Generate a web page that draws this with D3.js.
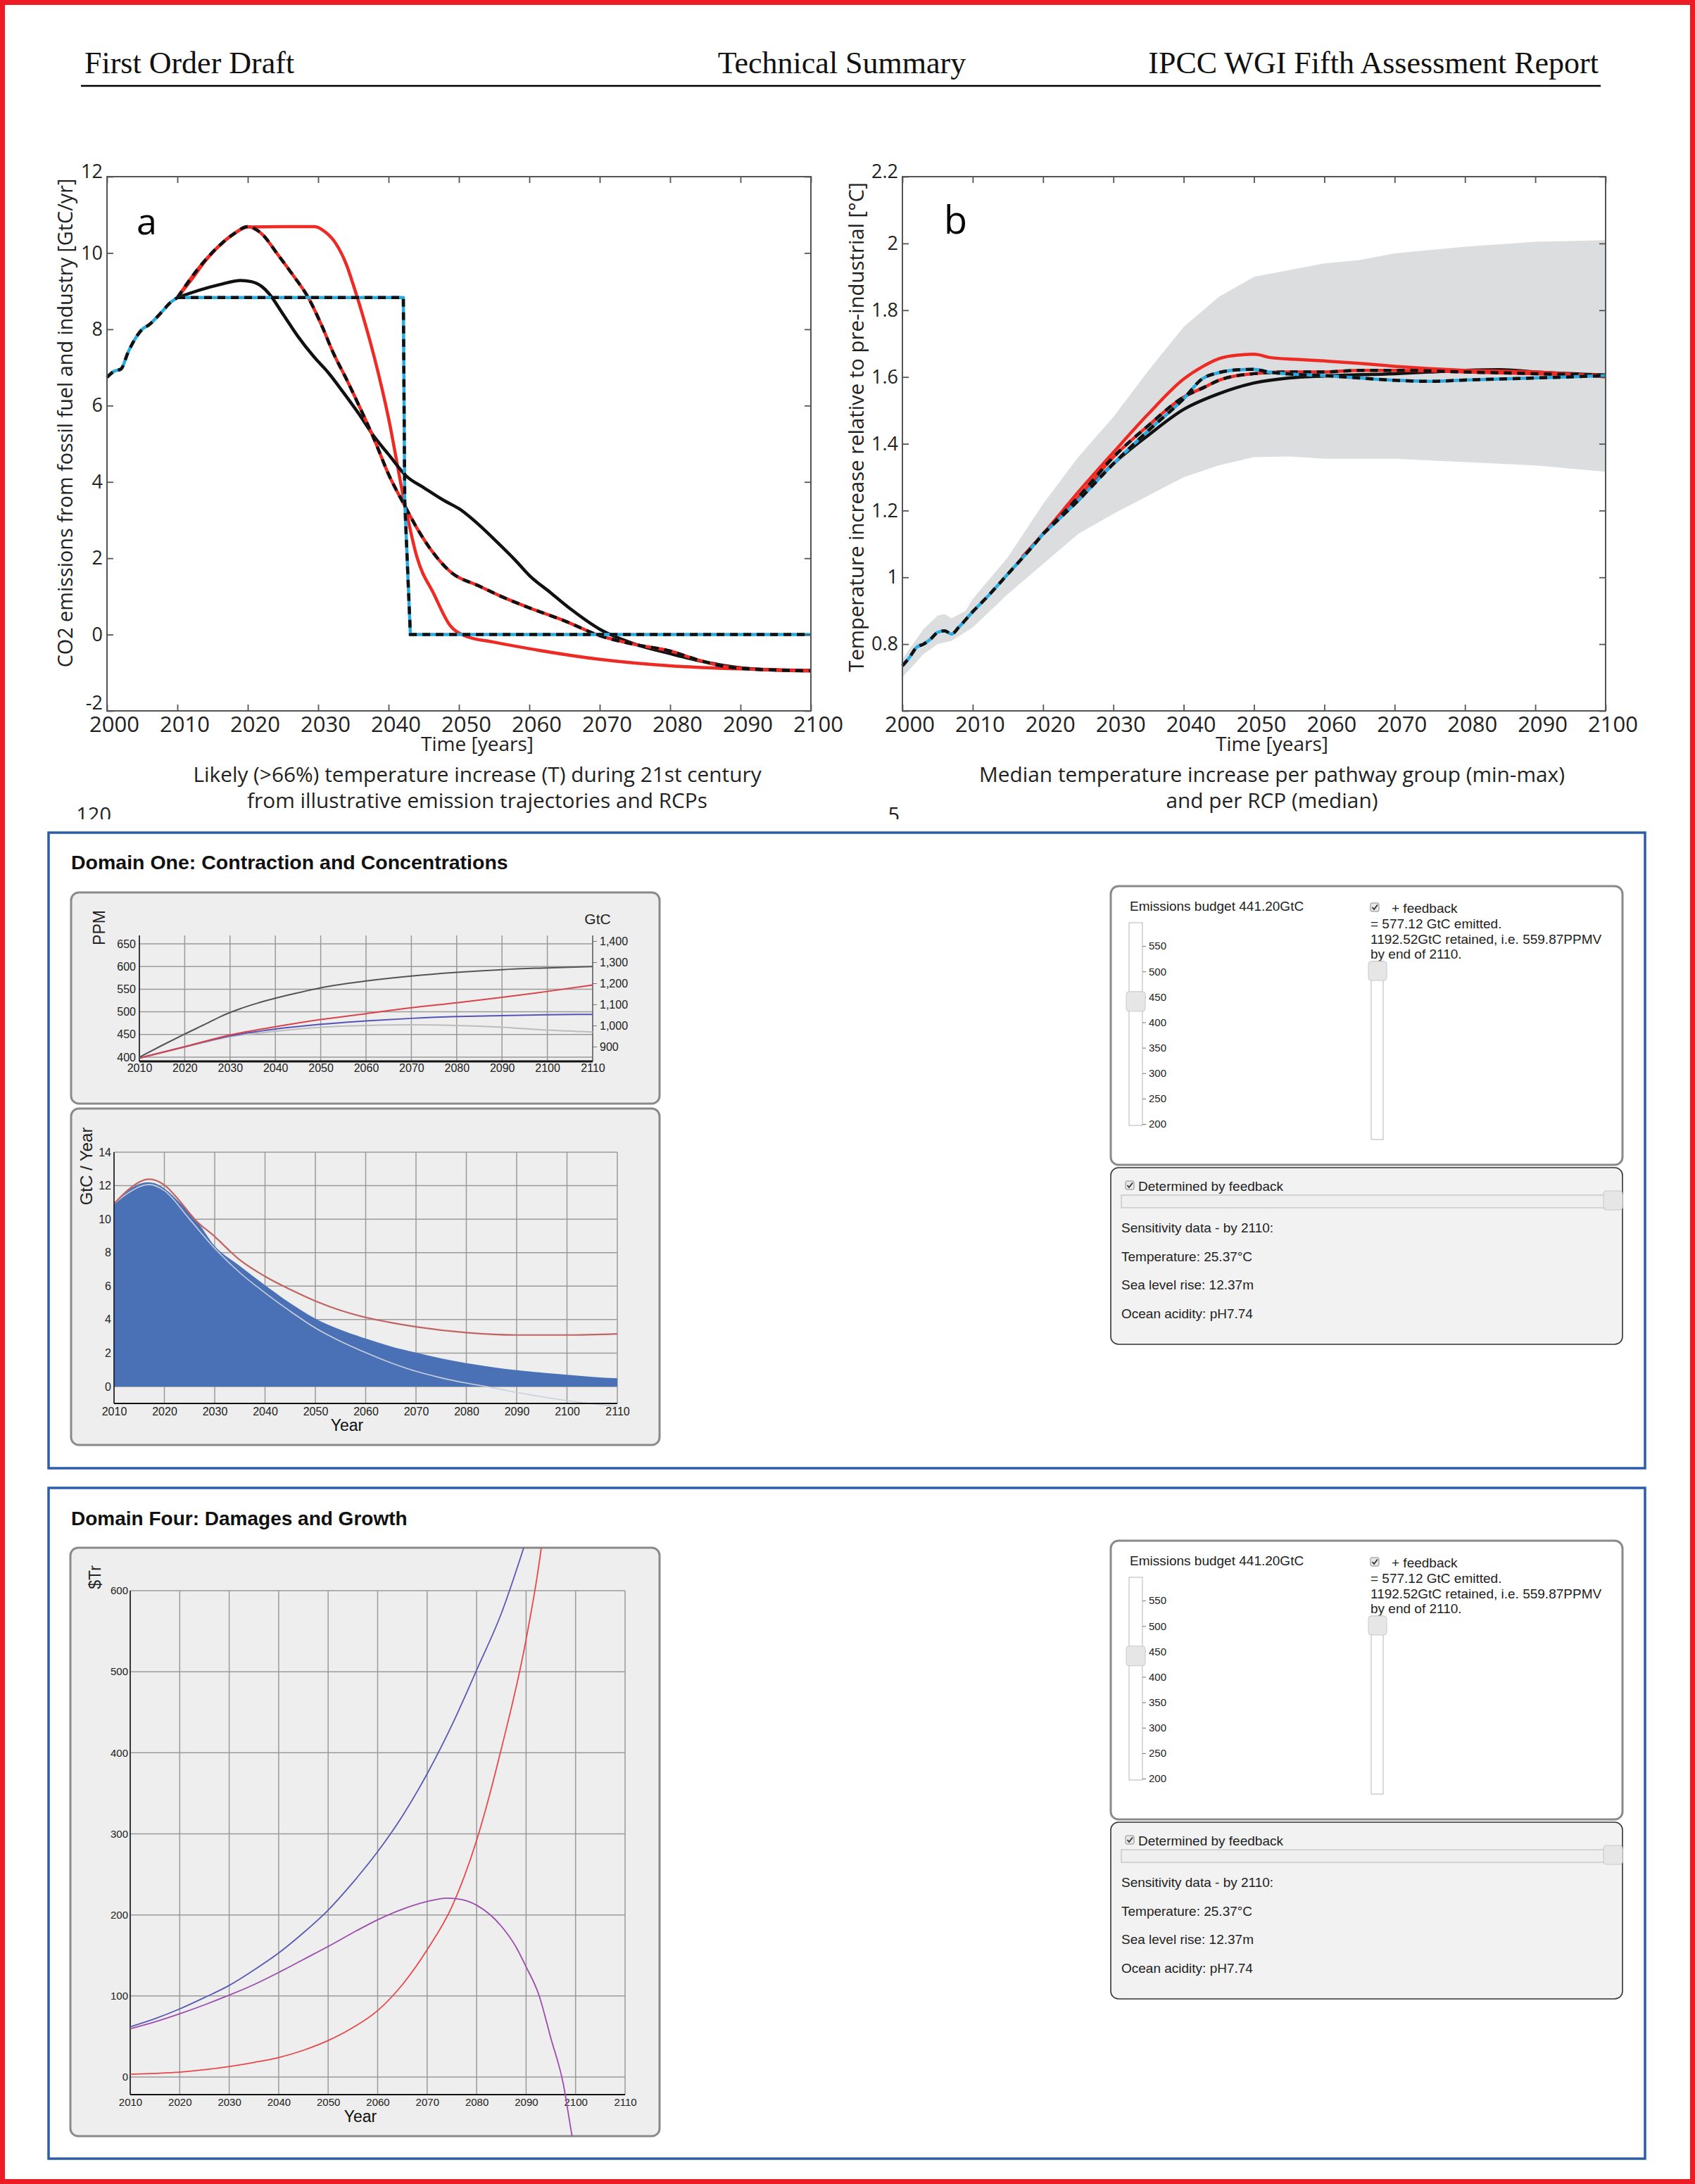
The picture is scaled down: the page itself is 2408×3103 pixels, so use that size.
<!DOCTYPE html>
<html lang="en">
<head>
<meta charset="UTF-8">
<title>Emission pathways and model panels</title>
<style>
  body { margin: 0; background: #fff; }
  svg { display: block; }
</style>
</head>
<body>
<script src="https://d3js.org/d3.v7.min.js"></script>
<script>
// ---------- data ----------
const decadeTicks = [2000, 2010, 2020, 2030, 2040, 2050, 2060, 2070, 2080, 2090, 2100];
const aYTicks = [-2, 0, 2, 4, 6, 8, 10, 12];
const bYTicks = [0.6, 0.8, 1, 1.2, 1.4, 1.6, 1.8, 2, 2.2];

// panel a: CO2 emissions [GtC/yr]
const aHistory = [[2000, 6.74], [2001, 6.9], [2002, 6.96], [2003, 7.4], [2004, 7.75], [2005, 8.0], [2006, 8.12], [2007, 8.3], [2008, 8.5], [2009, 8.7], [2010, 8.83]];
const aBlackSolid = [[2010, 8.83], [2013, 9.02], [2016, 9.17], [2019, 9.28], [2020.5, 9.25], [2022, 9.12], [2023, 8.94], [2025, 8.4], [2027.1, 7.82], [2029.3, 7.3], [2031.5, 6.85], [2033.6, 6.34], [2035.8, 5.78], [2037.9, 5.2], [2040, 4.72], [2042.6, 4.14], [2045, 3.85], [2048, 3.5], [2050, 3.3], [2053, 2.85], [2055, 2.5], [2058, 1.95], [2060, 1.55], [2063, 1.1], [2066, 0.65], [2070, 0.14], [2075, -0.25], [2080, -0.5], [2085, -0.72], [2090, -0.87], [2095, -0.93], [2100, -0.95]];
const aRedSolid = [[2010, 8.83], [2012, 9.3], [2014, 9.8], [2016, 10.2], [2018, 10.5], [2020, 10.68], [2025, 10.69], [2029.5, 10.69], [2031, 10.55], [2032.5, 10.25], [2034, 9.7], [2035, 9.16], [2036.5, 8.26], [2038, 7.25], [2040, 5.67], [2042.2, 3.52], [2044, 2.05], [2046.5, 1.04], [2048.7, 0.25], [2050.8, -0.03], [2055, -0.2], [2060, -0.37], [2070, -0.65], [2080, -0.82], [2090, -0.9], [2100, -0.94]];
const aRedDashed = [[2010, 8.83], [2013, 9.6], [2016, 10.2], [2018, 10.5], [2020, 10.69], [2022, 10.5], [2024.3, 9.95], [2026.5, 9.4], [2028.6, 8.83], [2030.5, 8.1], [2032.2, 7.36], [2034, 6.7], [2035.8, 6.0], [2038, 5.1], [2040, 4.2], [2042.2, 3.41], [2044, 2.8], [2045.8, 2.28], [2048.7, 1.66], [2053, 1.26], [2056, 1.0], [2060, 0.7], [2065, 0.36], [2070, -0.03], [2075, -0.26], [2080, -0.43], [2083.7, -0.65], [2087.3, -0.82], [2091, -0.9], [2095, -0.93], [2100, -0.95]];
const aBlueStep = [[2010, 8.83], [2042.1, 8.83], [2042.3, 3.5], [2043.1, 0], [2100, 0]];

// panel b: temperature increase [°C]
const bBandUpper = [[2000, 0.755], [2003, 0.845], [2005, 0.885], [2006, 0.89], [2007, 0.877], [2009, 0.9], [2010, 0.935], [2015, 1.06], [2020, 1.22], [2025, 1.36], [2030, 1.48], [2035, 1.62], [2040, 1.75], [2045, 1.84], [2050, 1.9], [2055, 1.92], [2060, 1.94], [2065, 1.95], [2070, 1.97], [2080, 1.99], [2090, 2.005], [2100, 2.01]];
const bBandLower = [[2000, 0.7], [2003, 0.77], [2005, 0.8], [2007, 0.81], [2010, 0.85], [2015, 0.95], [2020, 1.04], [2025, 1.13], [2030, 1.19], [2035, 1.245], [2040, 1.3], [2045, 1.335], [2050, 1.36], [2055, 1.362], [2060, 1.355], [2070, 1.355], [2080, 1.345], [2090, 1.335], [2100, 1.316]];
const bCommon = [[2000, 0.735], [2001, 0.76], [2002, 0.79], [2003, 0.8], [2004, 0.815], [2005, 0.835], [2006, 0.84], [2007, 0.83], [2008, 0.85], [2010, 0.897], [2012, 0.94], [2015, 1.01], [2018, 1.08], [2020, 1.13]];
const bRedSolid = [[2017, 1.06], [2020, 1.13], [2025, 1.255], [2030, 1.374], [2035, 1.49], [2040, 1.594], [2042.6, 1.63], [2045, 1.655], [2047.5, 1.665], [2050, 1.668], [2052.4, 1.658], [2056, 1.653], [2060, 1.648], [2065, 1.641], [2070, 1.632], [2075, 1.625], [2080, 1.62], [2090, 1.615], [2100, 1.6]];
const bRedDashed = [[2020, 1.13], [2025, 1.24], [2030, 1.36], [2035, 1.455], [2040, 1.54], [2043, 1.57], [2045, 1.59], [2050, 1.61], [2055, 1.615], [2060, 1.615], [2065, 1.62], [2070, 1.62], [2080, 1.615], [2090, 1.61], [2100, 1.605]];
const bBlueDashed = [[2020, 1.13], [2025, 1.23], [2030, 1.34], [2035, 1.44], [2040, 1.535], [2042.6, 1.594], [2045, 1.613], [2048, 1.622], [2050, 1.623], [2052, 1.615], [2055, 1.609], [2060, 1.604], [2065, 1.597], [2070, 1.59], [2075, 1.587], [2080, 1.591], [2090, 1.597], [2100, 1.604]];
const bBlackSolid = [[2025, 1.23], [2030, 1.34], [2035, 1.426], [2040, 1.503], [2045, 1.55], [2050, 1.582], [2055, 1.597], [2060, 1.603], [2070, 1.61], [2075, 1.615], [2080, 1.62], [2085, 1.622], [2090, 1.615], [2100, 1.606]];

// domain panels
const domYears = [2010, 2020, 2030, 2040, 2050, 2060, 2070, 2080, 2090, 2100, 2110];
const ppmTicks = [400, 450, 500, 550, 600, 650];
const gtcTicks = [900, 1000, 1100, 1200, 1300, 1400];
const ppmDark = [[2010, 400], [2015, 426], [2020, 451], [2025, 475], [2028, 490], [2032, 506], [2036, 519], [2040, 530], [2045, 542], [2050, 553], [2060, 568], [2070, 579], [2080, 587], [2090, 593], [2100, 597], [2110, 600]];
const ppmRed = [[2010, 398], [2020, 423], [2030, 449], [2040, 467], [2050, 483], [2060, 496], [2070, 509], [2080, 520], [2090, 532], [2100, 545], [2110, 559]];
const ppmBlue = [[2010, 398], [2020, 423], [2030, 447], [2040, 462], [2050, 472.6], [2060, 480], [2070, 485.6], [2080, 489.7], [2090, 491.8], [2100, 493.5], [2110, 494.4]];
const ppmGrey = [[2010, 398], [2020, 422], [2030, 445], [2040, 457], [2050, 466], [2060, 470], [2070, 471.6], [2080, 470], [2090, 466], [2100, 459.6], [2110, 455.5]];

const flowTicks = [0, 2, 4, 6, 8, 10, 12, 14];
const flowArea = [[2010, 10.92], [2012, 11.5], [2014, 11.95], [2016.6, 12.2], [2018, 12.15], [2020, 11.83], [2023, 11.0], [2026.2, 10.0], [2030, 8.4], [2035, 7.2], [2040, 6.05], [2045, 4.98], [2050, 4.06], [2055, 3.4], [2060, 2.87], [2065, 2.4], [2070, 2.03], [2075, 1.68], [2080, 1.4], [2085, 1.17], [2090, 0.98], [2095, 0.83], [2100, 0.7], [2105, 0.58], [2110, 0.49]];
const flowRed = [[2010, 10.92], [2013, 11.8], [2017, 12.39], [2020, 12.04], [2023, 11.1], [2026, 10.0], [2030, 8.96], [2035, 7.56], [2040, 6.58], [2045, 5.8], [2050, 5.11], [2055, 4.55], [2060, 4.13], [2065, 3.82], [2070, 3.57], [2080, 3.22], [2090, 3.08], [2100, 3.08], [2110, 3.15]];
const flowLight = [[2010, 10.92], [2013, 11.6], [2017, 12.07], [2020, 11.7], [2025, 10.0], [2030, 8.26], [2035, 6.8], [2040, 5.6], [2045, 4.5], [2050, 3.5], [2055, 2.7], [2060, 2.03], [2065, 1.42], [2070, 0.91], [2075, 0.52], [2080, 0.21], [2084, 0], [2090, -0.35], [2100, -0.84], [2110, -1.19]];

const trTicks = [0, 100, 200, 300, 400, 500, 600];
const trBlue = [[2010, 62], [2015, 72], [2020, 84], [2025, 98], [2030, 113], [2035, 132], [2040, 153], [2045, 178], [2050, 206], [2055, 240], [2060, 278], [2065, 322], [2070, 374], [2075, 434], [2080, 502], [2085, 572], [2090, 662]];
const trRed = [[2010, 3.5], [2015, 4.5], [2020, 6], [2025, 9], [2030, 13], [2035, 18], [2040, 24], [2045, 33], [2050, 45], [2055, 61], [2060, 82], [2065, 114], [2070, 157], [2075, 210], [2080, 292], [2085, 405], [2090, 540], [2093, 650], [2094, 700]];
const trPurple = [[2010, 59.5], [2015, 68], [2020, 78], [2025, 89], [2030, 101], [2035, 114], [2040, 129], [2045, 145], [2050, 161], [2055, 178], [2060, 194], [2065, 207], [2070, 216.5], [2074, 220.7], [2077, 219], [2080, 212], [2085, 186], [2088, 160], [2090, 136], [2092.6, 101], [2095, 48], [2097.5, -8], [2099.3, -73], [2100, -95]];

const budgetTicks = [200, 250, 300, 350, 400, 450, 500, 550];
const budgetValue = 441.2;
const infoLines = ["= 577.12 GtC emitted.", "1192.52GtC retained, i.e. 559.87PPMV", "by end of 2110."];
const sensLines = ["Sensitivity data - by 2110:", "Temperature: 25.37°C", "Sea level rise: 12.37m", "Ocean acidity: pH7.74"];

// ---------- drawing ----------
const MYR = '"Open Sans", "Noto Sans", sans-serif';
const ARIAL = '"Liberation Sans", Arial, sans-serif';

const svg = d3.select("body").append("svg")
    .attr("width", 2408).attr("height", 3103);

svg.append("rect").attr("width", 2408).attr("height", 3103).attr("fill", "#fff");

// page header
const hdr = svg.append("g")
    .attr("font-family", '"Liberation Serif", "Times New Roman", serif')
    .attr("font-size", 44).attr("fill", "#111");
hdr.append("text").attr("x", 120).attr("y", 104).text("First Order Draft");
hdr.append("text").attr("x", 1196).attr("y", 104).attr("text-anchor", "middle").text("Technical Summary");
hdr.append("text").attr("x", 2271).attr("y", 104).attr("text-anchor", "end").text("IPCC WGI Fifth Assessment Report");
svg.append("line").attr("x1", 115).attr("x2", 2274).attr("y1", 122).attr("y2", 122)
    .attr("stroke", "#000").attr("stroke-width", 2.5);

// top figure, cropped at the bottom
svg.append("clipPath").attr("id", "topClip")
    .append("rect").attr("width", 2408).attr("height", 1164);
const topG = svg.append("g").attr("clip-path", "url(#topClip)");

function lineGen(xs, ys, curve) {
    return d3.line().x(d => xs(d[0])).y(d => ys(d[1])).curve(curve || d3.curveMonotoneX);
}

function ipccFrame(g, xs, ys, yTicks, yLabels) {
    const [x0, x1] = xs.range();
    const [yb, yt] = ys.range();
    const [v0, v1] = ys.domain();
    const style = (sel, size) => {
        sel.select(".domain").remove();
        sel.selectAll("line").attr("stroke", "#555").attr("stroke-width", 1.8);
        sel.attr("font-family", MYR).attr("font-size", size || 27);
        sel.selectAll("text").attr("fill", "#222");
    };
    g.append("g").attr("transform", `translate(0,${yb})`)
        .call(d3.axisBottom(xs).tickValues(decadeTicks).tickSize(-9).tickPadding(9).tickFormat(d3.format("d")))
        .call(sel => style(sel, 31))
        .call(sel => sel.selectAll("text").attr("dx", 10).attr("dy", "0.68em"));
    g.append("g").attr("transform", `translate(0,${yt})`)
        .call(d3.axisTop(xs).tickValues(decadeTicks).tickSize(-9).tickFormat(""))
        .call(style);
    g.append("g").attr("transform", `translate(${x0},0)`)
        .call(d3.axisLeft(ys).tickValues(yTicks).tickSize(-9).tickPadding(6)
            .tickFormat(d => yLabels.includes(d) ? String(d) : ""))
        .call(style)
        .call(sel => sel.selectAll("text")
            .attr("dy", d => d === v0 ? "-0.08em" : d === v1 ? "0.05em" : "0.32em"));
    g.append("g").attr("transform", `translate(${x1},0)`)
        .call(d3.axisRight(ys).tickValues(yTicks).tickSize(-9).tickFormat(""))
        .call(style);
    g.append("rect").attr("x", x0).attr("y", yt).attr("width", x1 - x0).attr("height", yb - yt)
        .attr("fill", "none").attr("stroke", "#555").attr("stroke-width", 2);
}

function drawLine(g, data, gen, color, dashed) {
    g.append("path").datum(data).attr("d", gen).attr("fill", "none")
        .attr("stroke", color).attr("stroke-width", 4.5).attr("stroke-linejoin", "round");
    if (dashed) {
        g.append("path").datum(data).attr("d", gen).attr("fill", "none")
            .attr("stroke", "#111").attr("stroke-width", 4.5).attr("stroke-dasharray", "11,8");
    }
}

const RED = "#EE2A24", CYAN = "#29ABE2", BLACK = "#111";

// ---- panel a ----
const ax = d3.scaleLinear().domain([2000, 2100]).range([152, 1152]);
const ay = d3.scaleLinear().domain([-2, 12]).range([1010, 251]);
const ag = topG.append("g");
const aLine = lineGen(ax, ay);
drawLine(ag, aRedSolid, aLine, RED, false);
drawLine(ag, aBlackSolid, aLine, BLACK, false);
drawLine(ag, aRedDashed, aLine, RED, true);
drawLine(ag, aBlueStep, lineGen(ax, ay, d3.curveLinear), CYAN, true);
drawLine(ag, aHistory, aLine, CYAN, true);
ipccFrame(ag, ax, ay, aYTicks, aYTicks);
ag.append("text").attr("x", 194).attr("y", 333).attr("font-family", MYR).attr("font-size", 52).text("a");
ag.append("text").attr("transform", "translate(103,601) rotate(-90)").attr("text-anchor", "middle")
    .attr("font-family", MYR).attr("font-size", 28.8).attr("fill", "#222")
    .text("CO2 emissions from fossil fuel and industry [GtC/yr]");

// ---- panel b ----
const bx = d3.scaleLinear().domain([2000, 2100]).range([1282, 2281]);
const by = d3.scaleLinear().domain([0.6, 2.2]).range([1010, 251]);
const bg = topG.append("g");
bg.append("path")
    .datum(bBandUpper.concat(bBandLower.slice().reverse()))
    .attr("d", d => lineGen(bx, by, d3.curveLinear)(d) + "Z")
    .attr("fill", "#DCDDDE");
const bLine = lineGen(bx, by);
drawLine(bg, bBlackSolid, bLine, BLACK, false);
drawLine(bg, bRedSolid, bLine, RED, false);
drawLine(bg, bRedDashed, bLine, RED, true);
drawLine(bg, bBlueDashed, bLine, CYAN, true);
drawLine(bg, bCommon, bLine, CYAN, true);
ipccFrame(bg, bx, by, bYTicks, bYTicks.slice(1));
bg.append("text").attr("x", 1341).attr("y", 332).attr("font-family", MYR).attr("font-size", 54).text("b");
bg.append("text").attr("transform", "translate(1227,607) rotate(-90)").attr("text-anchor", "middle")
    .attr("font-family", MYR).attr("font-size", 29.3).attr("fill", "#222")
    .text("Temperature increase relative to pre-industrial [°C]");

// captions
const cap = topG.append("g").attr("font-family", MYR).attr("fill", "#222").attr("text-anchor", "middle");
cap.append("text").attr("x", 678).attr("y", 1067).attr("font-size", 28).text("Time [years]");
cap.append("text").attr("x", 678).attr("y", 1111).attr("font-size", 29.8).text("Likely (>66%) temperature increase (T) during 21st century");
cap.append("text").attr("x", 678).attr("y", 1148).attr("font-size", 29.8).text("from illustrative emission trajectories and RCPs");
cap.append("text").attr("x", 1807).attr("y", 1067).attr("font-size", 28).text("Time [years]");
cap.append("text").attr("x", 1807).attr("y", 1111).attr("font-size", 29.8).text("Median temperature increase per pathway group (min-max)");
cap.append("text").attr("x", 1807).attr("y", 1148).attr("font-size", 29.8).text("and per RCP (median)");
cap.append("text").attr("x", 158).attr("y", 1168).attr("font-size", 29).attr("text-anchor", "end").text("120");
cap.append("text").attr("x", 1278).attr("y", 1168).attr("font-size", 29).attr("text-anchor", "end").text("5");

// ---------- domain panels ----------
function roundBox(g, x, y, w, h, fill, stroke, sw) {
    g.append("rect").attr("x", x).attr("y", y).attr("width", w).attr("height", h).attr("rx", 11)
        .attr("fill", fill).attr("stroke", stroke).attr("stroke-width", sw);
}

function grid(g, xs, ys, xVals, yVals, top, bottom) {
    const [x0, x1] = xs.range();
    g.selectAll(null).data(yVals).join("line")
        .attr("x1", x0).attr("x2", x1).attr("y1", d => ys(d)).attr("y2", d => ys(d))
        .attr("stroke", "#9A9A9A").attr("stroke-width", 1.5);
    g.selectAll(null).data(xVals).join("line")
        .attr("x1", d => xs(d)).attr("x2", d => xs(d)).attr("y1", top).attr("y2", bottom)
        .attr("stroke", "#9A9A9A").attr("stroke-width", 1.5);
}

function domAxisStyle(sel, size) {
    sel.select(".domain").remove();
    sel.attr("font-family", ARIAL).attr("font-size", size || 16);
    sel.selectAll("text").attr("fill", "#222");
    sel.selectAll("line").attr("stroke", "#777");
}

function checkbox(g, x, y) {
    g.append("rect").attr("x", x).attr("y", y).attr("width", 12).attr("height", 12).attr("rx", 2)
        .attr("fill", "#E8E8E8").attr("stroke", "#8A8A8A");
    g.append("path").attr("d", `M${x + 2.5},${y + 6} L${x + 5},${y + 9} L${x + 10},${y + 2.5}`)
        .attr("fill", "none").attr("stroke", "#333").attr("stroke-width", 1.8);
}

function controls(dy) {
    const g = svg.append("g").attr("transform", `translate(0,${dy})`)
        .attr("font-family", ARIAL).attr("font-size", 19);
    roundBox(g, 1578, 1259, 727, 396, "#fff", "#8A8A8A", 3);
    roundBox(g, 1578, 1659, 727, 251, "#F2F2F2", "#333", 1.6);

    g.append("text").attr("x", 1605).attr("y", 1294).attr("fill", "#222").text("Emissions budget 441.20GtC");

    // budget slider
    const s = d3.scaleLinear().domain([200, 600]).range([1597, 1308]);
    g.append("rect").attr("x", 1604).attr("y", 1311).attr("width", 19).attr("height", 288)
        .attr("fill", "#fff").attr("stroke", "#B5B5B5");
    g.append("g").attr("transform", "translate(1623,0)")
        .call(d3.axisRight(s).tickValues(budgetTicks).tickSize(5).tickPadding(4))
        .call(sel => domAxisStyle(sel, 15));
    g.append("rect").attr("x", 1600).attr("y", s(budgetValue) - 14).attr("width", 27).attr("height", 28).attr("rx", 4)
        .attr("fill", "#E6E6E6").attr("stroke", "#C8C8C8");

    // feedback checkbox and result
    checkbox(g, 1947, 1283);
    g.append("text").attr("x", 1977).attr("y", 1297).attr("fill", "#222").text("+ feedback");
    g.selectAll(null).data(infoLines).join("text")
        .attr("x", 1947).attr("y", (d, i) => 1319 + i * 21.5).attr("fill", "#222").text(d => d);
    g.append("rect").attr("x", 1948).attr("y", 1366).attr("width", 17).attr("height", 253)
        .attr("fill", "#fff").attr("stroke", "#B5B5B5");
    g.append("rect").attr("x", 1944).attr("y", 1366).attr("width", 26).attr("height", 27).attr("rx", 4)
        .attr("fill", "#E6E6E6").attr("stroke", "#C8C8C8");

    // sensitivity box
    checkbox(g, 1599, 1678);
    g.append("text").attr("x", 1617).attr("y", 1692).attr("fill", "#222").text("Determined by feedback");
    g.append("rect").attr("x", 1593).attr("y", 1698).attr("width", 712).attr("height", 18)
        .attr("fill", "#EFEFEF").attr("stroke", "#B5B5B5");
    g.append("rect").attr("x", 2278).attr("y", 1692).attr("width", 27).attr("height", 27).attr("rx", 4)
        .attr("fill", "#E6E6E6").attr("stroke", "#C8C8C8");
    g.selectAll(null).data(sensLines).join("text")
        .attr("x", 1593).attr("y", (d, i) => 1751 + i * 40.5).attr("fill", "#222").text(d => d);
}

// ---- Domain One ----
const d1 = svg.append("g");
d1.append("rect").attr("x", 69).attr("y", 1183).attr("width", 2268).attr("height", 903)
    .attr("fill", "#fff").attr("stroke", "#2B5DAB").attr("stroke-width", 3.5);
d1.append("text").attr("x", 101).attr("y", 1235).attr("font-family", ARIAL).attr("font-weight", "bold")
    .attr("font-size", 28.5).attr("fill", "#111").text("Domain One: Contraction and Concentrations");

// concentrations chart
roundBox(d1, 101, 1268, 836, 300, "#EDEEED", "#8A8A8A", 3);
const px = d3.scaleLinear().domain([2010, 2110]).range([198, 842]);
const py = d3.scaleLinear().domain([400, 650]).range([1502, 1341]);
const pg = d3.scaleLinear().domain([900, 1400]).range([1487, 1337]);
grid(d1, px, py, domYears, ppmTicks, 1329, 1508);
d1.append("g").attr("transform", "translate(198,0)")
    .call(d3.axisLeft(py).tickValues(ppmTicks).tickSize(0).tickPadding(5))
    .call(sel => domAxisStyle(sel, 16));
d1.append("g").attr("transform", "translate(0,1508)")
    .call(d3.axisBottom(px).tickValues(domYears).tickSize(0).tickPadding(4).tickFormat(d3.format("d")))
    .call(sel => domAxisStyle(sel, 16));
d1.append("g").attr("transform", "translate(842,0)")
    .call(d3.axisRight(pg).tickValues(gtcTicks).tickSize(6).tickPadding(4).tickFormat(d3.format(",")))
    .call(sel => domAxisStyle(sel, 16));
d1.append("line").attr("x1", 198).attr("x2", 198).attr("y1", 1329).attr("y2", 1508).attr("stroke", "#111").attr("stroke-width", 1.5);
d1.append("line").attr("x1", 842).attr("x2", 842).attr("y1", 1329).attr("y2", 1508).attr("stroke", "#555").attr("stroke-width", 1.2);
d1.append("line").attr("x1", 198).attr("x2", 842).attr("y1", 1508).attr("y2", 1508).attr("stroke", "#111").attr("stroke-width", 3);
const pLine = lineGen(px, py);
[[ppmGrey, "#BDBDBD"], [ppmBlue, "#5454B8"], [ppmRed, "#D9434C"], [ppmDark, "#555"]].forEach(([data, c]) => {
    d1.append("path").datum(data).attr("d", pLine).attr("fill", "none").attr("stroke", c).attr("stroke-width", 2);
});
d1.append("text").attr("transform", "translate(149,1318) rotate(-90)").attr("text-anchor", "middle")
    .attr("font-family", ARIAL).attr("font-size", 23).attr("fill", "#222").text("PPM");
d1.append("text").attr("x", 849).attr("y", 1313).attr("text-anchor", "middle")
    .attr("font-family", ARIAL).attr("font-size", 21).attr("fill", "#222").text("GtC");

// emissions flow chart
roundBox(d1, 101, 1575, 836, 478, "#EDEEED", "#8A8A8A", 3);
const fx = d3.scaleLinear().domain([2010, 2110]).range([162, 877]);
const fy = d3.scaleLinear().domain([0, 14]).range([1970, 1637]);
grid(d1, fx, fy, domYears, flowTicks, 1637, 1994);
d1.append("path").datum(flowArea)
    .attr("d", d3.area().x(d => fx(d[0])).y0(fy(0)).y1(d => fy(d[1])).curve(d3.curveMonotoneX))
    .attr("fill", "#4A71B6");
d1.append("path").datum(flowLight).attr("d", lineGen(fx, fy)).attr("fill", "none")
    .attr("stroke", "#C9CFDA").attr("stroke-width", 1.6);
d1.append("path").datum(flowRed).attr("d", lineGen(fx, fy)).attr("fill", "none")
    .attr("stroke", "#C06464").attr("stroke-width", 2.2);
d1.append("g").attr("transform", "translate(162,0)")
    .call(d3.axisLeft(fy).tickValues(flowTicks).tickSize(0).tickPadding(4))
    .call(sel => domAxisStyle(sel, 16));
d1.append("g").attr("transform", "translate(0,1994)")
    .call(d3.axisBottom(fx).tickValues(domYears).tickSize(0).tickPadding(6).tickFormat(d3.format("d")))
    .call(sel => domAxisStyle(sel, 16));
d1.append("line").attr("x1", 162).attr("x2", 162).attr("y1", 1637).attr("y2", 1994).attr("stroke", "#111").attr("stroke-width", 1.5);
d1.append("line").attr("x1", 162).attr("x2", 877).attr("y1", 1994).attr("y2", 1994).attr("stroke", "#111").attr("stroke-width", 2);
d1.append("text").attr("transform", "translate(131,1657) rotate(-90)").attr("text-anchor", "middle")
    .attr("font-family", ARIAL).attr("font-size", 24).attr("fill", "#222").text("GtC / Year");
d1.append("text").attr("x", 493).attr("y", 2033).attr("text-anchor", "middle")
    .attr("font-family", ARIAL).attr("font-size", 23).attr("fill", "#111").text("Year");

controls(0);

// ---- Domain Four ----
const d4 = svg.append("g");
d4.append("rect").attr("x", 69).attr("y", 2114).attr("width", 2268).attr("height", 953)
    .attr("fill", "#fff").attr("stroke", "#2B5DAB").attr("stroke-width", 3.5);
d4.append("text").attr("x", 101).attr("y", 2167).attr("font-family", ARIAL).attr("font-weight", "bold")
    .attr("font-size", 28).attr("fill", "#111").text("Domain Four: Damages and Growth");
roundBox(d4, 100, 2199, 837, 836, "#EDEEED", "#8A8A8A", 3);
const tx = d3.scaleLinear().domain([2010, 2110]).range([185, 888]);
const ty = d3.scaleLinear().domain([0, 600]).range([2951, 2260]);
grid(d4, tx, ty, domYears, trTicks, 2260, 2976);
d4.append("g").attr("transform", "translate(185,0)")
    .call(d3.axisLeft(ty).tickValues(trTicks).tickSize(0).tickPadding(3))
    .call(sel => domAxisStyle(sel, 15));
d4.append("g").attr("transform", "translate(0,2976)")
    .call(d3.axisBottom(tx).tickValues(domYears).tickSize(0).tickPadding(5).tickFormat(d3.format("d")))
    .call(sel => domAxisStyle(sel, 15));
d4.append("line").attr("x1", 185).attr("x2", 185).attr("y1", 2260).attr("y2", 2976).attr("stroke", "#111").attr("stroke-width", 1.5);
d4.append("line").attr("x1", 185).attr("x2", 888).attr("y1", 2976).attr("y2", 2976).attr("stroke", "#111").attr("stroke-width", 2);
svg.append("clipPath").attr("id", "d4Clip")
    .append("rect").attr("x", 100).attr("y", 2199).attr("width", 837).attr("height", 836);
const d4Lines = d4.append("g").attr("clip-path", "url(#d4Clip)");
const tLine = lineGen(tx, ty);
[[trBlue, "#5A5AB6"], [trRed, "#E8474C"], [trPurple, "#9C4DAE"]].forEach(([data, c]) => {
    d4Lines.append("path").datum(data).attr("d", tLine).attr("fill", "none").attr("stroke", c).attr("stroke-width", 1.8);
});
d4.append("text").attr("transform", "translate(143,2241) rotate(-90)").attr("text-anchor", "middle")
    .attr("font-family", ARIAL).attr("font-size", 23).attr("fill", "#222").text("$Tr");
d4.append("text").attr("x", 512).attr("y", 3015).attr("text-anchor", "middle")
    .attr("font-family", ARIAL).attr("font-size", 23).attr("fill", "#111").text("Year");

controls(930);

// red page frame
svg.append("rect").attr("x", 3.5).attr("y", 3.5).attr("width", 2401).attr("height", 3096)
    .attr("fill", "none").attr("stroke", "#ED1C24").attr("stroke-width", 7);
</script>
</body>
</html>
